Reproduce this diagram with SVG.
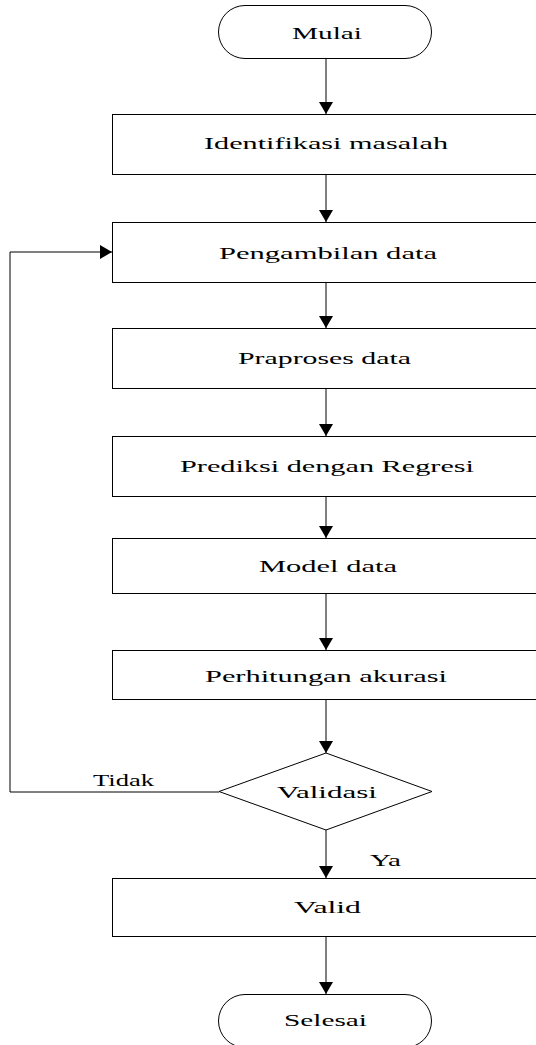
<svg xmlns="http://www.w3.org/2000/svg" width="536" height="1045" viewBox="0 0 536 1045">
<style>
.shape{fill:#fff;stroke:#000;stroke-width:1}
.conn{fill:none;stroke:#000;stroke-width:1}
.t{font-family:"Liberation Serif","Times New Roman",serif;font-size:17px;fill:#000}
.c{text-anchor:middle}
</style>
<defs>
<marker id="ah" markerUnits="userSpaceOnUse" markerWidth="14" markerHeight="14" refX="12" refY="7" orient="auto">
<path d="M0,0 L12,7 L0,14 z" fill="#000"/>
</marker>
</defs>
<rect width="536" height="1045" fill="#fff"/>
<g id="connectors">
<line class="conn" x1="326" y1="58" x2="326" y2="114" marker-end="url(#ah)"/>
<line class="conn" x1="326" y1="174" x2="326" y2="222" marker-end="url(#ah)"/>
<line class="conn" x1="326" y1="282" x2="326" y2="328" marker-end="url(#ah)"/>
<line class="conn" x1="326" y1="388" x2="326" y2="436" marker-end="url(#ah)"/>
<line class="conn" x1="326" y1="496" x2="326" y2="538" marker-end="url(#ah)"/>
<line class="conn" x1="326" y1="593" x2="326" y2="650" marker-end="url(#ah)"/>
<line class="conn" x1="326" y1="699" x2="326" y2="753" marker-end="url(#ah)"/>
<line class="conn" x1="326" y1="830" x2="326" y2="878" marker-end="url(#ah)"/>
<line class="conn" x1="326" y1="936" x2="326" y2="994" marker-end="url(#ah)"/>
<polyline class="conn" points="219,792 10,792 10,252 112,252" marker-end="url(#ah)"/>
<text class="t" x="93" y="786" textLength="61" lengthAdjust="spacingAndGlyphs">Tidak</text>
<text class="t" x="370" y="866" textLength="31" lengthAdjust="spacingAndGlyphs">Ya</text>
</g>
<g id="mulai">
<rect class="shape" x="218.5" y="5.5" width="213" height="53" rx="26.5" ry="26.5"/>
<text class="t c" x="327" y="39" textLength="70" lengthAdjust="spacingAndGlyphs">Mulai</text>
</g>
<g id="identifikasi">
<rect class="shape" x="112.5" y="114.5" width="430" height="60"/>
<text class="t c" x="326" y="149" textLength="244" lengthAdjust="spacingAndGlyphs">Identifikasi masalah</text>
</g>
<g id="pengambilan">
<rect class="shape" x="112.5" y="222.5" width="430" height="60"/>
<text class="t c" x="328" y="259" textLength="218" lengthAdjust="spacingAndGlyphs">Pengambilan data</text>
</g>
<g id="praproses">
<rect class="shape" x="112.5" y="328.5" width="430" height="60"/>
<text class="t c" x="324.5" y="364" textLength="173" lengthAdjust="spacingAndGlyphs">Praproses data</text>
</g>
<g id="prediksi">
<rect class="shape" x="112.5" y="436.5" width="430" height="60"/>
<text class="t c" x="327" y="472" textLength="294" lengthAdjust="spacingAndGlyphs">Prediksi dengan Regresi</text>
</g>
<g id="model">
<rect class="shape" x="112.5" y="538.5" width="430" height="55"/>
<text class="t c" x="328" y="572" textLength="138" lengthAdjust="spacingAndGlyphs">Model data</text>
</g>
<g id="perhitungan">
<rect class="shape" x="112.5" y="650.5" width="430" height="49"/>
<text class="t c" x="326" y="682" textLength="242" lengthAdjust="spacingAndGlyphs">Perhitungan akurasi</text>
</g>
<g id="validasi">
<polygon class="shape" points="326,753 432,791.5 326,830 219,791.5"/>
<text class="t c" x="327" y="798" textLength="100" lengthAdjust="spacingAndGlyphs">Validasi</text>
</g>
<g id="valid">
<rect class="shape" x="112.5" y="878.5" width="430" height="58"/>
<text class="t c" x="327.5" y="913" textLength="67" lengthAdjust="spacingAndGlyphs">Valid</text>
</g>
<g id="selesai">
<rect class="shape" x="218.5" y="994.5" width="213" height="53" rx="26.5" ry="26.5"/>
<text class="t c" x="325.5" y="1026" textLength="83" lengthAdjust="spacingAndGlyphs">Selesai</text>
</g>
</svg>
